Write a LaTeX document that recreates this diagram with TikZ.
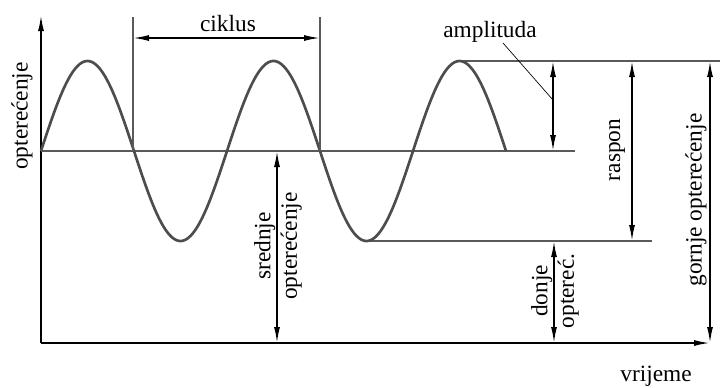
\documentclass[tikz,border=0pt]{standalone}
\usepackage{fontspec}
\setmainfont{Liberation Serif}
\usetikzlibrary{arrows.meta}
\definecolor{WaveGray}{HTML}{4D4D4D}
\definecolor{RefGray}{HTML}{5A5A5A}

\begin{document}
\begin{tikzpicture}[x=0.75pt,y=-0.75pt,
  axis/.style={-{Latex[length=12pt,width=4.5pt]},line width=1.3pt},
  dim/.style={{Latex[length=12pt,width=4.5pt]}-{Latex[length=12pt,width=4.5pt]},
    line width=1.2pt},
  ref/.style={RefGray,line width=0.8pt},
  wave/.style={WaveGray,line width=2pt},
  lead/.style={line width=0.5pt},
  lab/.style={font=\fontsize{17.5}{20}\selectfont,inner sep=1pt}]
  \useasboundingbox (0,0) rectangle (720,387);
  % axes
  \coordinate (O)  at ( 41,343);
  \coordinate (Yt) at ( 41, 15);
  \coordinate (Xt) at (710,343);
  \draw[axis] (O) -- (Yt);
  \draw[axis] (O) -- (Xt);
  % reference lines
  \coordinate (M0) at ( 41,151);
  \coordinate (M1) at (575,151);
  \coordinate (P0) at (459, 61);
  \coordinate (P1) at (720, 61);
  \coordinate (T0) at (366,241);
  \coordinate (T1) at (652,241);
  \draw[ref] (M0) -- (M1);
  \draw[ref] (P0) -- (P1);
  \draw[ref] (T0) -- (T1);
  % load curve
  \draw[wave] plot[domain=41:506,samples=240,smooth]
    (\x,{151-90*sin(1.935484*(\x-41))});
  % cycle
  \coordinate (C0) at (133, 17);
  \coordinate (C1) at (320, 17);
  \draw[ref] (C0) -- (133,151);
  \draw[ref] (C1) -- (320,151);
  \draw[dim] (133,38) coordinate (Ca) -- (320,38) coordinate (Cb);
  \node[lab,anchor=base] (cyc) at (228,31) {ciklus};
  % amplitude
  \coordinate (A0) at (553, 61);
  \coordinate (A1) at (553,151);
  \draw[dim] (A0) -- (A1);
  \node[lab,anchor=base] (amp) at (490,37) {amplituda};
  \coordinate (Ak) at (553,100);
  \draw[lead] (503,43) coordinate (Al) -- (Ak);
  % range
  \coordinate (R0) at (632, 61);
  \coordinate (R1) at (632,241);
  \draw[dim] (R0) -- (R1);
  \node[lab,rotate=90] (rng) at (617,150) {raspon};
  % upper load
  \coordinate (U0) at (710, 61);
  \coordinate (U1) at (710,343);
  \draw[dim] (U0) -- (U1);
  \node[lab,rotate=90] (upper) at (696,200) {gornje opterećenje};
  % mean load
  \coordinate (S0) at (277,151);
  \coordinate (S1) at (277,343);
  \draw[dim] (S0) -- (S1);
  \node[lab,rotate=90,align=center] (mean) at (278,246) {srednje\\opterećenje};
  % lower load
  \coordinate (D0) at (554,241);
  \coordinate (D1) at (554,343);
  \draw[dim] (D0) -- (D1);
  \node[lab,rotate=90,align=center] (lower) at (555,291) {donje\\optereć.};
  % axis labels
  \node[lab,rotate=90] (ylab) at (22,116) {opterećenje};
  \node[lab,anchor=base] (xlab) at (656,381) {vrijeme};
\end{tikzpicture}
\end{document}
